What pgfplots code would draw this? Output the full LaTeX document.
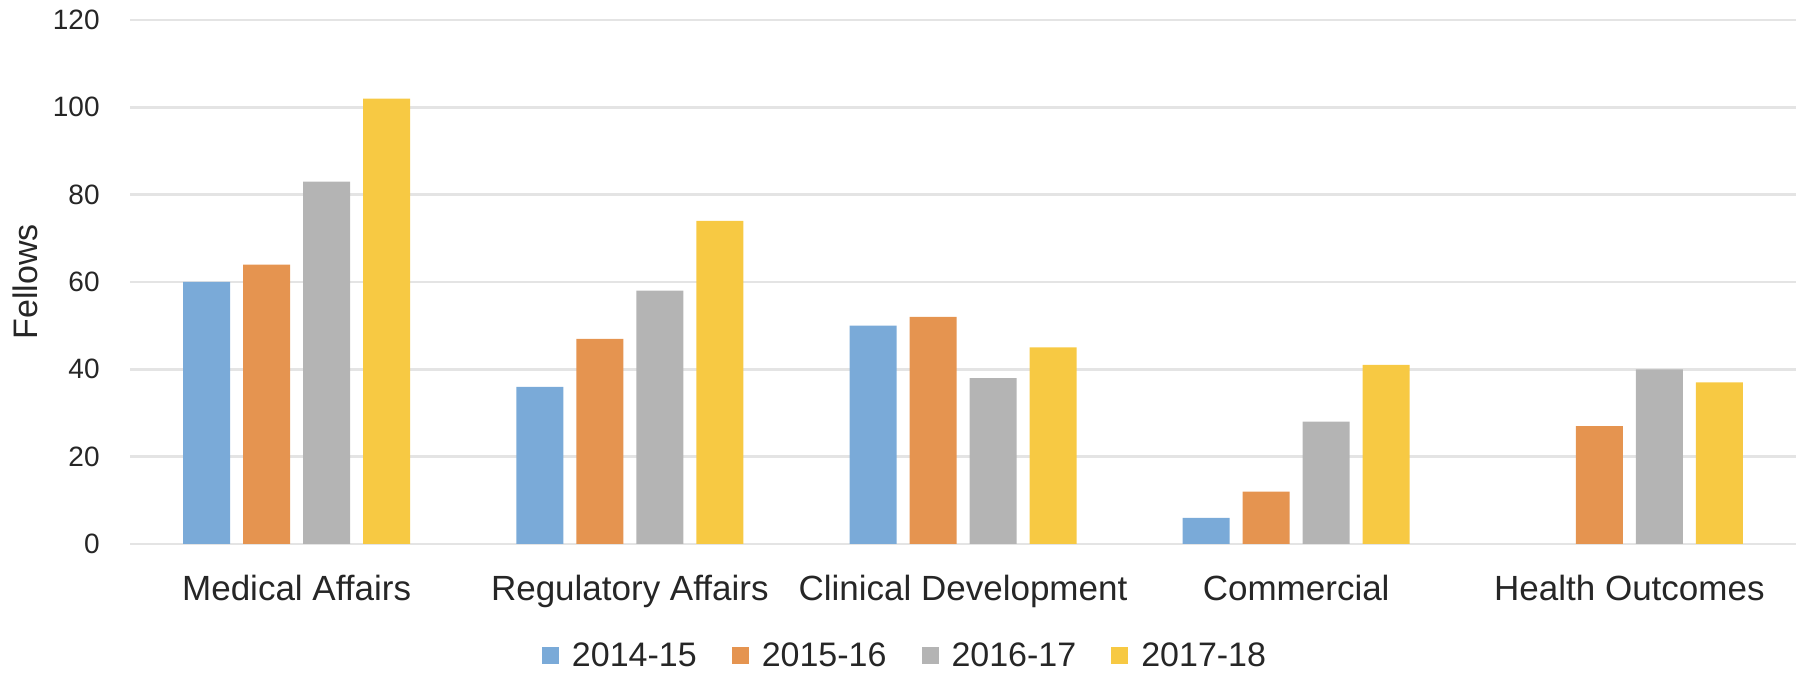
\documentclass[border=0pt]{standalone}
\usepackage{fontspec}
\setmainfont{Liberation Sans}
\usepackage{pgfplots}
\pgfplotsset{compat=1.18}
\definecolor{c1}{RGB}{122,170,216}
\definecolor{c2}{RGB}{229,148,80}
\definecolor{c3}{RGB}{180,180,180}
\definecolor{c4}{RGB}{247,201,67}
\definecolor{gridgray}{RGB}{228,228,228}
\definecolor{ink}{RGB}{38,38,38}

\begin{document}
\begin{tikzpicture}
% page frame, same proportions as the reference
\path[use as bounding box] (-65pt,-64.5pt) rectangle (836pt,272pt);
\begin{axis}[
  at={(0pt,0pt)}, anchor=south west,
  scale only axis,
  width=833pt, height=262pt,
  ybar=6.5pt, bar width=23.5pt,
  xmin=-0.5, xmax=4.5, ymin=0, ymax=120,
  xtick={0,...,4},
  xticklabels={Medical Affairs, Regulatory Affairs, Clinical Development, Commercial, Health Outcomes},
  ytick={0,20,...,120},
  ymajorgrids, grid style={gridgray, line width=1.3pt},
  axis line style={draw=none},
  major tick length=0pt,
  /pgf/number format/assume math mode=true,
  yticklabel style={font=\fontsize{14}{16}\selectfont, text=ink, anchor=east, inner sep=0pt, xshift=-15pt},
  xticklabel style={font=\fontsize{17.5}{20}\selectfont, text=ink, anchor=base, inner sep=0pt, yshift=-28.5pt},
  ylabel={Fellows},
  ylabel style={font=\fontsize{17}{20}\selectfont, text=ink, at={(axis description cs:-0.063,0.5)}, anchor=center},
  legend columns=-1,
  legend style={draw=none, fill=none, font=\fontsize{17}{20}\selectfont, text=ink,
    at={(0.4658,0)}, anchor=north, yshift=-45pt,
    /tikz/every odd column/.append style={column sep=4.5pt},
    /tikz/every even column/.append style={column sep=15.5pt},
    cells={anchor=west, inner sep=0pt}},
  legend image code/.code={\fill[#1] (0pt,-4.25pt) rectangle (8.5pt,4.25pt);},
]
\addplot[fill=c1, draw=none] coordinates {(0,60) (1,36) (2,50) (3,6)};
\addplot[fill=c2, draw=none] coordinates {(0,64) (1,47) (2,52) (3,12) (4,27)};
\addplot[fill=c3, draw=none] coordinates {(0,83) (1,58) (2,38) (3,28) (4,40)};
\addplot[fill=c4, draw=none] coordinates {(0,102) (1,74) (2,45) (3,41) (4,37)};
\legend{2014-15, 2015-16, 2016-17, 2017-18}
\end{axis}
\end{tikzpicture}
\end{document}
